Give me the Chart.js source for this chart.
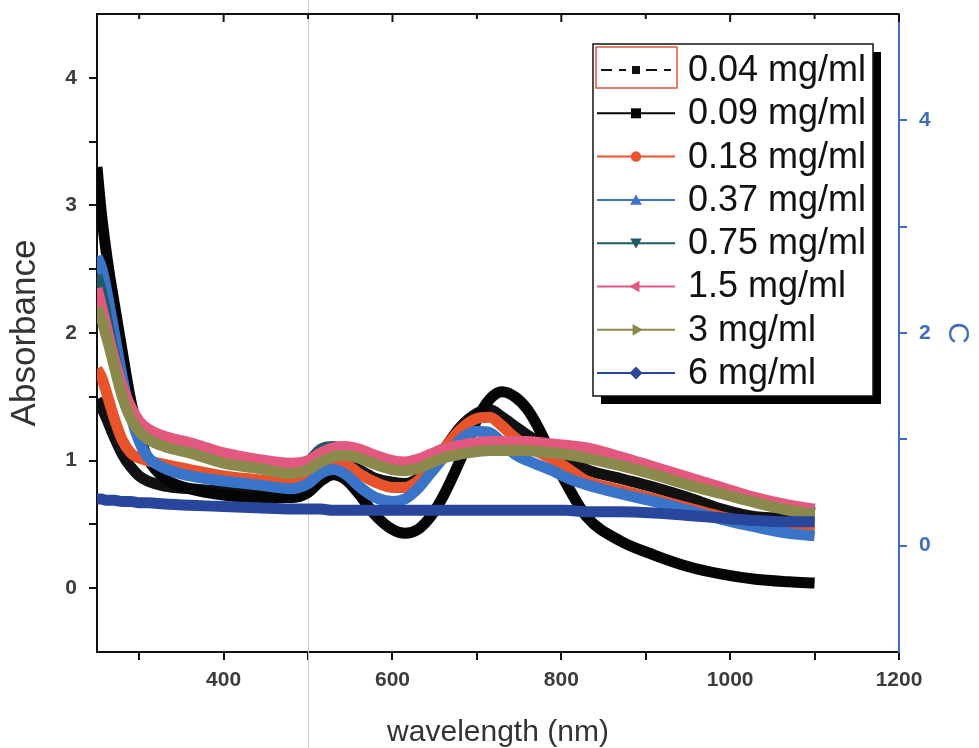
<!DOCTYPE html>
<html>
<head>
<meta charset="utf-8">
<script src="https://cdn.jsdelivr.net/npm/chart.js@4.4.1/dist/chart.umd.min.js"></script>
<style>
  html, body { margin: 0; padding: 0; background: #ffffff; }
  #wrap { width: 979px; height: 748px; }
</style>
</head>
<body>
<div id="wrap"><canvas id="spectra" width="979" height="748"></canvas></div>
<script>
// Wavelength grid (nm) shared by all spectra
const wavelengths = [250, 255, 260, 265, 270, 280, 290, 300, 310, 330, 360, 400, 440, 480, 500, 515, 530, 545, 560, 580,
  600, 615, 630, 645, 660, 680, 700, 715, 730, 745, 760, 775, 790, 805, 830, 870, 910, 950, 990, 1030, 1070, 1100];

// Absorbance of each concentration
const abs004 = [1.48, 1.42, 1.35, 1.27, 1.19, 1.05, 0.95, 0.88, 0.84, 0.80, 0.78, 0.76, 0.74, 0.73, 0.78, 0.88, 0.96, 0.97, 0.93, 0.86,
  0.83, 0.82, 0.86, 0.96, 1.08, 1.26, 1.37, 1.40, 1.34, 1.27, 1.20, 1.14, 1.09, 1.03, 0.93, 0.86, 0.79, 0.71, 0.62, 0.56, 0.55, 0.55];
const abs009 = [3.30, 2.95, 2.68, 2.45, 2.25, 1.85, 1.47, 1.20, 1.02, 0.86, 0.78, 0.73, 0.71, 0.71, 0.75, 0.84, 0.89, 0.85, 0.74, 0.57,
  0.46, 0.43, 0.46, 0.56, 0.72, 1.00, 1.32, 1.48, 1.54, 1.50, 1.40, 1.23, 1.02, 0.83, 0.56, 0.37, 0.26, 0.17, 0.11, 0.07, 0.05, 0.04];
const abs018 = [1.72, 1.66, 1.56, 1.45, 1.34, 1.16, 1.06, 1.02, 1.00, 0.97, 0.93, 0.88, 0.85, 0.82, 0.85, 0.93, 0.98, 0.97, 0.90, 0.83,
  0.79, 0.79, 0.84, 0.95, 1.08, 1.24, 1.33, 1.34, 1.27, 1.18, 1.11, 1.06, 1.01, 0.95, 0.84, 0.77, 0.70, 0.63, 0.56, 0.50, 0.47, 0.46];
const abs037 = [2.60, 2.52, 2.38, 2.20, 2.02, 1.65, 1.35, 1.15, 1.03, 0.94, 0.88, 0.84, 0.81, 0.78, 0.82, 0.90, 0.93, 0.89, 0.80, 0.71,
  0.68, 0.70, 0.78, 0.90, 1.02, 1.16, 1.23, 1.22, 1.14, 1.05, 1.00, 0.96, 0.92, 0.87, 0.81, 0.74, 0.68, 0.61, 0.54, 0.48, 0.43, 0.41];
const abs075 = [2.45, 2.33, 2.17, 2.00, 1.84, 1.55, 1.37, 1.26, 1.20, 1.13, 1.08, 1.00, 0.96, 0.93, 0.99, 1.09, 1.11, 1.08, 1.03, 0.98,
  0.94, 0.93, 0.95, 0.99, 1.03, 1.06, 1.08, 1.09, 1.09, 1.09, 1.09, 1.08, 1.07, 1.06, 1.03, 0.97, 0.90, 0.83, 0.76, 0.69, 0.63, 0.59];
const abs15 = [2.35, 2.22, 2.08, 1.94, 1.81, 1.58, 1.42, 1.31, 1.25, 1.19, 1.14, 1.06, 1.01, 0.98, 1.00, 1.06, 1.10, 1.11, 1.09, 1.04,
  1.00, 0.99, 1.01, 1.05, 1.09, 1.12, 1.14, 1.15, 1.15, 1.15, 1.15, 1.14, 1.13, 1.12, 1.10, 1.03, 0.95, 0.87, 0.79, 0.71, 0.65, 0.62];
const abs3 = [2.20, 2.12, 2.00, 1.88, 1.75, 1.50, 1.33, 1.23, 1.17, 1.11, 1.06, 0.98, 0.94, 0.90, 0.93, 0.99, 1.03, 1.04, 1.02, 0.97,
  0.93, 0.92, 0.94, 0.98, 1.02, 1.05, 1.07, 1.08, 1.08, 1.08, 1.08, 1.07, 1.06, 1.05, 1.02, 0.96, 0.89, 0.81, 0.74, 0.67, 0.61, 0.58];
const abs6 = [0.70, 0.70, 0.69, 0.69, 0.69, 0.68, 0.68, 0.67, 0.67, 0.66, 0.65, 0.64, 0.63, 0.62, 0.62, 0.62, 0.61, 0.61, 0.61, 0.61,
  0.61, 0.61, 0.61, 0.61, 0.61, 0.61, 0.61, 0.61, 0.61, 0.61, 0.61, 0.61, 0.61, 0.61, 0.60, 0.60, 0.59, 0.57, 0.55, 0.53, 0.52, 0.52];

const seriesLabels = ['0.04 mg/ml', '0.09 mg/ml', '0.18 mg/ml', '0.37 mg/ml', '0.75 mg/ml', '1.5 mg/ml', '3 mg/ml', '6 mg/ml'];
const seriesValues = [abs004, abs009, abs018, abs037, abs075, abs15, abs3, abs6];

// Axis ticks
const xTicks = [300, 400, 500, 600, 700, 800, 900, 1000, 1100, 1200];
const xLabels = [400, 600, 800, 1000, 1200];
const yTicks = [0, 0.5, 1, 1.5, 2, 2.5, 3, 3.5, 4];
const yLabels = [0, 1, 2, 3, 4];
const cTicks = [0, 1, 2, 3, 4];
const cLabels = [0, 2, 4];
const markerWavelength = 500;

// Line colours and legend markers
const colors = ['#111111', '#050505', '#e8532b', '#3a74c8', '#1f5a68', '#e2587f', '#8b8a4c', '#27469c'];
const markers = ['square', 'square', 'circle', 'tri-up', 'tri-down', 'tri-left', 'tri-right', 'diamond'];

const FONT = "'Liberation Sans', Arial, Helvetica, sans-serif";
const AXIS_BLUE = '#3f6cc0';

const datasets = seriesValues.map((vals, i) => ({
  label: seriesLabels[i],
  data: wavelengths.map((w, k) => ({ x: w, y: vals[k] })),
  borderColor: colors[i],
  backgroundColor: colors[i],
  borderWidth: 11,
  pointRadius: 0,
  cubicInterpolationMode: 'monotone',
  borderJoinStyle: 'round',
  fill: false,
  order: seriesValues.length - i,
  yAxisID: 'y'
}));

function drawMarker(ctx, type, x, y, r, color) {
  ctx.save();
  ctx.fillStyle = color;
  ctx.beginPath();
  if (type === 'square') {
    ctx.rect(x - r, y - r, 2 * r, 2 * r);
  } else if (type === 'circle') {
    ctx.arc(x, y, r * 1.05, 0, Math.PI * 2);
  } else if (type === 'diamond') {
    ctx.moveTo(x, y - r * 1.3); ctx.lineTo(x + r * 1.3, y); ctx.lineTo(x, y + r * 1.3); ctx.lineTo(x - r * 1.3, y);
  } else {
    const rot = { 'tri-up': 0, 'tri-right': Math.PI / 2, 'tri-down': Math.PI, 'tri-left': -Math.PI / 2 }[type];
    const R = r * 1.35;
    for (let k = 0; k < 3; k++) {
      const a = rot + k * 2 * Math.PI / 3 - Math.PI / 2;
      const px = x + R * Math.cos(a), py = y + R * Math.sin(a) + (type === 'tri-up' ? R * 0.2 : type === 'tri-down' ? -R * 0.2 : 0);
      if (k === 0) ctx.moveTo(px, py); else ctx.lineTo(px, py);
    }
  }
  ctx.closePath();
  ctx.fill();
  ctx.restore();
}

// Keep the plot frame where the layout padding puts it (no extra room for end labels)
function noLabelPadding(s) {
  s.paddingTop = 0;
  s.paddingBottom = 0;
  s.paddingLeft = 0;
  s.paddingRight = 0;
}

// Faint reference line at 500 nm, running the full height of the figure
const refLine = {
  id: 'refLine',
  beforeDatasetsDraw(chart) {
    const { ctx } = chart;
    const x = Math.round(chart.scales.x.getPixelForValue(markerWavelength)) + 0.5;
    ctx.save();
    ctx.strokeStyle = '#d9bdea';
    ctx.lineWidth = 1;
    ctx.beginPath();
    ctx.moveTo(x, 0);
    ctx.lineTo(x, chart.height);
    ctx.stroke();
    ctx.restore();
  }
};

// Top frame line with inward ticks
const topFrame = {
  id: 'topFrame',
  afterDraw(chart) {
    const { ctx, chartArea } = chart;
    const xs = chart.scales.x;
    ctx.save();
    ctx.strokeStyle = '#111';
    ctx.lineWidth = 2;
    ctx.beginPath();
    ctx.moveTo(chartArea.left - 1, chartArea.top);
    ctx.lineTo(chartArea.right, chartArea.top);
    ctx.stroke();
    xTicks.forEach(v => {
      const px = xs.getPixelForValue(v);
      const len = xLabels.includes(v) ? 8 : 5;
      ctx.beginPath();
      ctx.moveTo(px, chartArea.top);
      ctx.lineTo(px, chartArea.top + len);
      ctx.stroke();
    });
    ctx.restore();
  }
};

// Boxed legend with drop shadow
const boxLegend = {
  id: 'boxLegend',
  afterDraw(chart) {
    const { ctx } = chart;
    const left = 593, top = 44, w = 280, h = 352, shadow = 8;
    ctx.save();
    ctx.fillStyle = '#000';
    ctx.fillRect(left + shadow, top + shadow, w, h);
    ctx.fillStyle = '#fff';
    ctx.fillRect(left, top, w, h);
    ctx.strokeStyle = '#111';
    ctx.lineWidth = 1.5;
    ctx.strokeRect(left, top, w, h);

    const rowH = 43.3;
    chart.data.datasets.forEach((ds, i) => {
      const y = top + 26 + i * rowH;
      const x0 = left + 4, x1 = left + 82, xm = (x0 + x1) / 2;
      ctx.strokeStyle = colors[i];
      ctx.lineWidth = 2;
      ctx.setLineDash(i === 0 ? [11, 7] : []);
      ctx.beginPath();
      if (i === 0) {
        ctx.moveTo(x0 + 4, y); ctx.lineTo(xm - 10, y);
        ctx.moveTo(xm + 10, y); ctx.lineTo(x1 - 4, y);
      } else {
        ctx.moveTo(x0, y); ctx.lineTo(x1, y);
      }
      ctx.stroke();
      ctx.setLineDash([]);
      drawMarker(ctx, markers[i], xm, y, i === 0 ? 4 : 5, colors[i]);
      ctx.fillStyle = '#111';
      ctx.font = '36px ' + FONT;
      ctx.textBaseline = 'middle';
      ctx.textAlign = 'left';
      ctx.fillText(ds.label, left + 95, y + 1);
    });
    // selection box around the first sample
    ctx.strokeStyle = '#e0553c';
    ctx.lineWidth = 1.5;
    ctx.strokeRect(left + 3, top + 3, 81, 41);
    ctx.restore();
  }
};

new Chart(document.getElementById('spectra'), {
  type: 'line',
  data: { datasets },
  plugins: [refLine, topFrame, boxLegend],
  options: {
    responsive: false,
    animation: false,
    events: [],
    layout: { autoPadding: false, padding: { top: 14, left: 0, right: 0, bottom: 0 } },
    plugins: { legend: { display: false }, tooltip: { enabled: false } },
    scales: {
      x: {
        type: 'linear',
        min: 250,
        max: 1200,
        afterBuildTicks: s => { s.ticks = xTicks.map(v => ({ value: v })); },
        afterFit: s => { s.height = 96; noLabelPadding(s); },
        grid: { drawOnChartArea: false, drawTicks: true, tickLength: 8, color: '#111', lineWidth: 2 },
        border: { display: true, color: '#111', width: 2 },
        ticks: {
          autoSkip: false, maxRotation: 0, padding: 8, color: '#3c3c3c',
          font: { family: FONT, size: 21, weight: 'bold' },
          callback: v => (xLabels.includes(v) ? String(v) : '')
        },
        title: {
          display: true, text: 'wavelength (nm)', color: '#333',
          font: { family: FONT, size: 30, lineHeight: 1 }, padding: { top: 0, bottom: 0 }
        }
      },
      y: {
        type: 'linear',
        position: 'left',
        min: -0.5,
        max: 4.5,
        afterBuildTicks: s => { s.ticks = yTicks.map(v => ({ value: v })); },
        afterFit: s => { s.width = 97; noLabelPadding(s); },
        grid: { drawOnChartArea: false, drawTicks: true, tickLength: 8, color: '#111', lineWidth: 2 },
        border: { display: true, color: '#111', width: 2 },
        ticks: {
          padding: 12, color: '#3c3c3c',
          font: { family: FONT, size: 21, weight: 'bold' },
          callback: v => (yLabels.includes(v) ? String(v) : '')
        },
        title: {
          display: true, text: 'Absorbance', color: '#333',
          font: { family: FONT, size: 35, lineHeight: 1 }, padding: { top: 8, bottom: 0 }
        }
      },
      yC: {
        type: 'linear',
        position: 'right',
        display: true,
        min: -1,
        max: 5,
        afterBuildTicks: s => { s.ticks = cTicks.map(v => ({ value: v })); },
        afterFit: s => { s.width = 80; noLabelPadding(s); },
        grid: { drawOnChartArea: false, drawTicks: true, tickLength: 8, color: AXIS_BLUE, lineWidth: 2 },
        border: { display: true, color: AXIS_BLUE, width: 2 },
        ticks: {
          padding: 12, color: AXIS_BLUE,
          font: { family: FONT, size: 21, weight: 'bold' },
          callback: v => (cLabels.includes(v) ? String(v) : '')
        },
        title: {
          display: true, text: 'C', color: AXIS_BLUE,
          font: { family: FONT, size: 30, lineHeight: 1 }, padding: { top: 7, bottom: 0 }
        }
      }
    }
  }
});
</script>
</body>
</html>
